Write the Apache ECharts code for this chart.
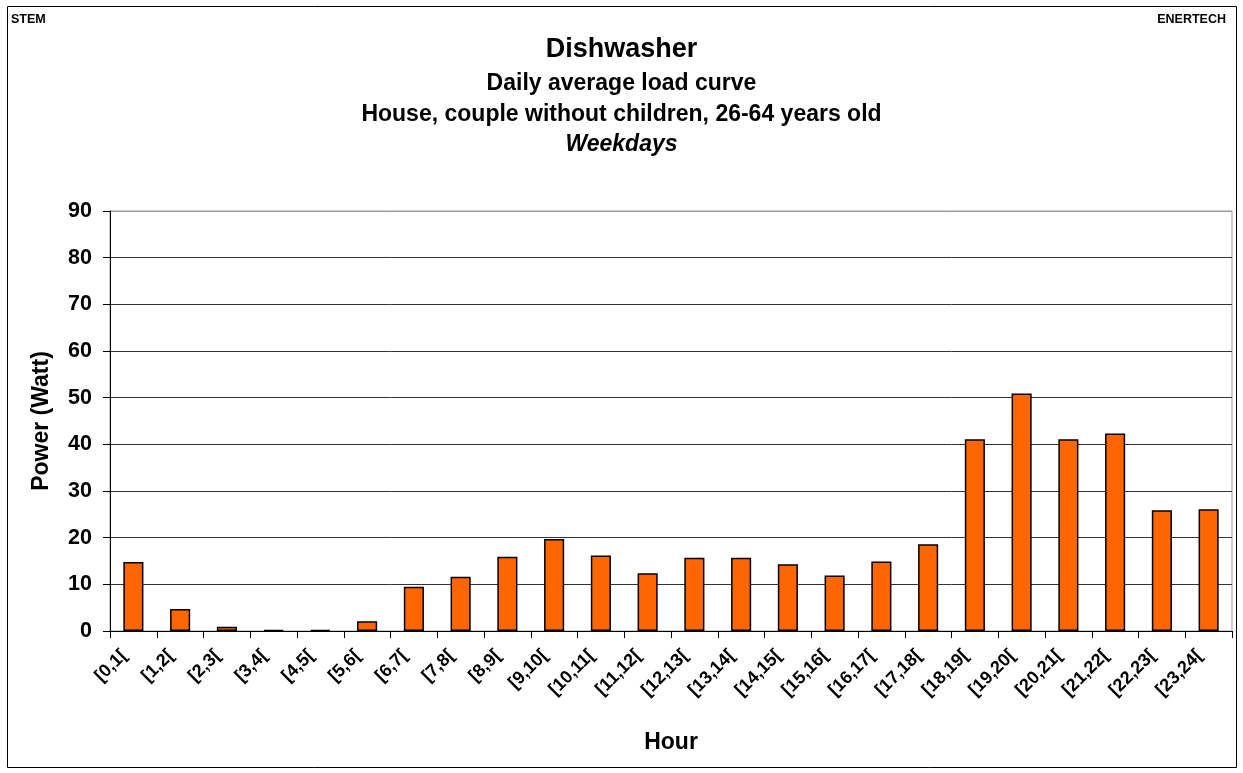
<!DOCTYPE html>
<html><head><meta charset="utf-8">
<script src="https://cdn.jsdelivr.net/npm/echarts@6/dist/echarts.min.js"></script>
<style>html,body{margin:0;padding:0;background:#fff}#c{width:1243px;height:773px}</style>
</head><body><div id="c"></div>
<script>
const categories = ["[0,1[","[1,2[","[2,3[","[3,4[","[4,5[","[5,6[","[6,7[","[7,8[","[8,9[","[9,10[","[10,11[","[11,12[","[12,13[","[13,14[","[14,15[","[15,16[","[16,17[","[17,18[","[18,19[","[19,20[","[20,21[","[21,22[","[22,23[","[23,24["];
const powerValues = [14.8,4.7,0.9,0.2,0.2,2.1,9.5,11.6,15.9,19.7,16.2,12.4,15.7,15.7,14.3,11.9,14.9,18.6,41.1,50.9,41.1,42.3,25.9,26.1];
const yTicks = [0,10,20,30,40,50,60,70,80,90];
const titleLines = ["Dishwasher","Daily average load curve","House, couple without children, 26-64 years old","Weekdays"];
const FF = '"Liberation Sans", Arial, sans-serif';
const chart = echarts.init(document.getElementById('c'));
chart.setOption({
  animation:false,
  backgroundColor:'#fff',
  grid:{left:110,right:11,top:211,bottom:142,show:true,borderColor:'#9a9a9a',borderWidth:1,containLabel:false},
  title:[
    {text:titleLines[0],left:'center',top:36,padding:0,textStyle:{fontFamily:FF,fontWeight:'bold',fontSize:27,color:'#000'}},
    {text:titleLines[1],left:'center',top:72,padding:0,textStyle:{fontFamily:FF,fontWeight:'bold',fontSize:23,color:'#000'}},
    {text:titleLines[2],left:'center',top:103,padding:0,textStyle:{fontFamily:FF,fontWeight:'bold',fontSize:23,color:'#000'}},
    {text:titleLines[3],left:'center',top:133,padding:0,textStyle:{fontFamily:FF,fontWeight:'bold',fontStyle:'italic',fontSize:23,color:'#000'}},
    {text:'STEM',left:11,top:13,padding:0,textStyle:{fontFamily:FF,fontWeight:'bold',fontSize:12.5,color:'#000'}},
    {text:'ENERTECH',right:17,top:13,padding:0,textStyle:{fontFamily:FF,fontWeight:'bold',fontSize:12.5,color:'#000'}}
  ],
  xAxis:{
    type:'category',data:categories,
    name:'Hour',nameLocation:'middle',nameGap:100,
    nameTextStyle:{fontFamily:FF,fontWeight:'bold',fontSize:23,color:'#000'},
    axisLine:{lineStyle:{color:'#000',width:1}},
    axisTick:{show:true,alignWithLabel:false,length:7,lineStyle:{color:'#000'}},
    axisLabel:{rotate:45,interval:0,margin:31,fontFamily:FF,fontWeight:'bold',fontSize:18,color:'#000',
      verticalAlign:'bottom',lineHeight:26}
  },
  yAxis:{
    type:'value',min:0,max:90,interval:10,
    name:'Power (Watt)',nameLocation:'middle',nameGap:57,
    nameTextStyle:{fontFamily:FF,fontWeight:'bold',fontSize:23,color:'#000'},
    axisLine:{show:true,lineStyle:{color:'#000',width:1}},
    axisTick:{show:true,length:7,lineStyle:{color:'#000'}},
    axisLabel:{margin:18,fontFamily:FF,fontWeight:'bold',fontSize:21.5,color:'#000',
      formatter:function(v){return yTicks.indexOf(v)>=0?String(v):'';}},
    splitLine:{show:true,lineStyle:{color:['#000','#333','#333','#333','#333','#333','#333','#333','#333','#9a9a9a'],width:1}}
  },
  series:[{
    type:'bar',data:powerValues,barWidth:'43%',
    itemStyle:{color:'#FF6600',borderColor:'#000',borderWidth:1.5}
  }],
  graphic:[{type:'rect',shape:{x:7.5,y:6.5,width:1229,height:761},style:{fill:null,stroke:'#000',lineWidth:1}}]
});
</script></body></html>
